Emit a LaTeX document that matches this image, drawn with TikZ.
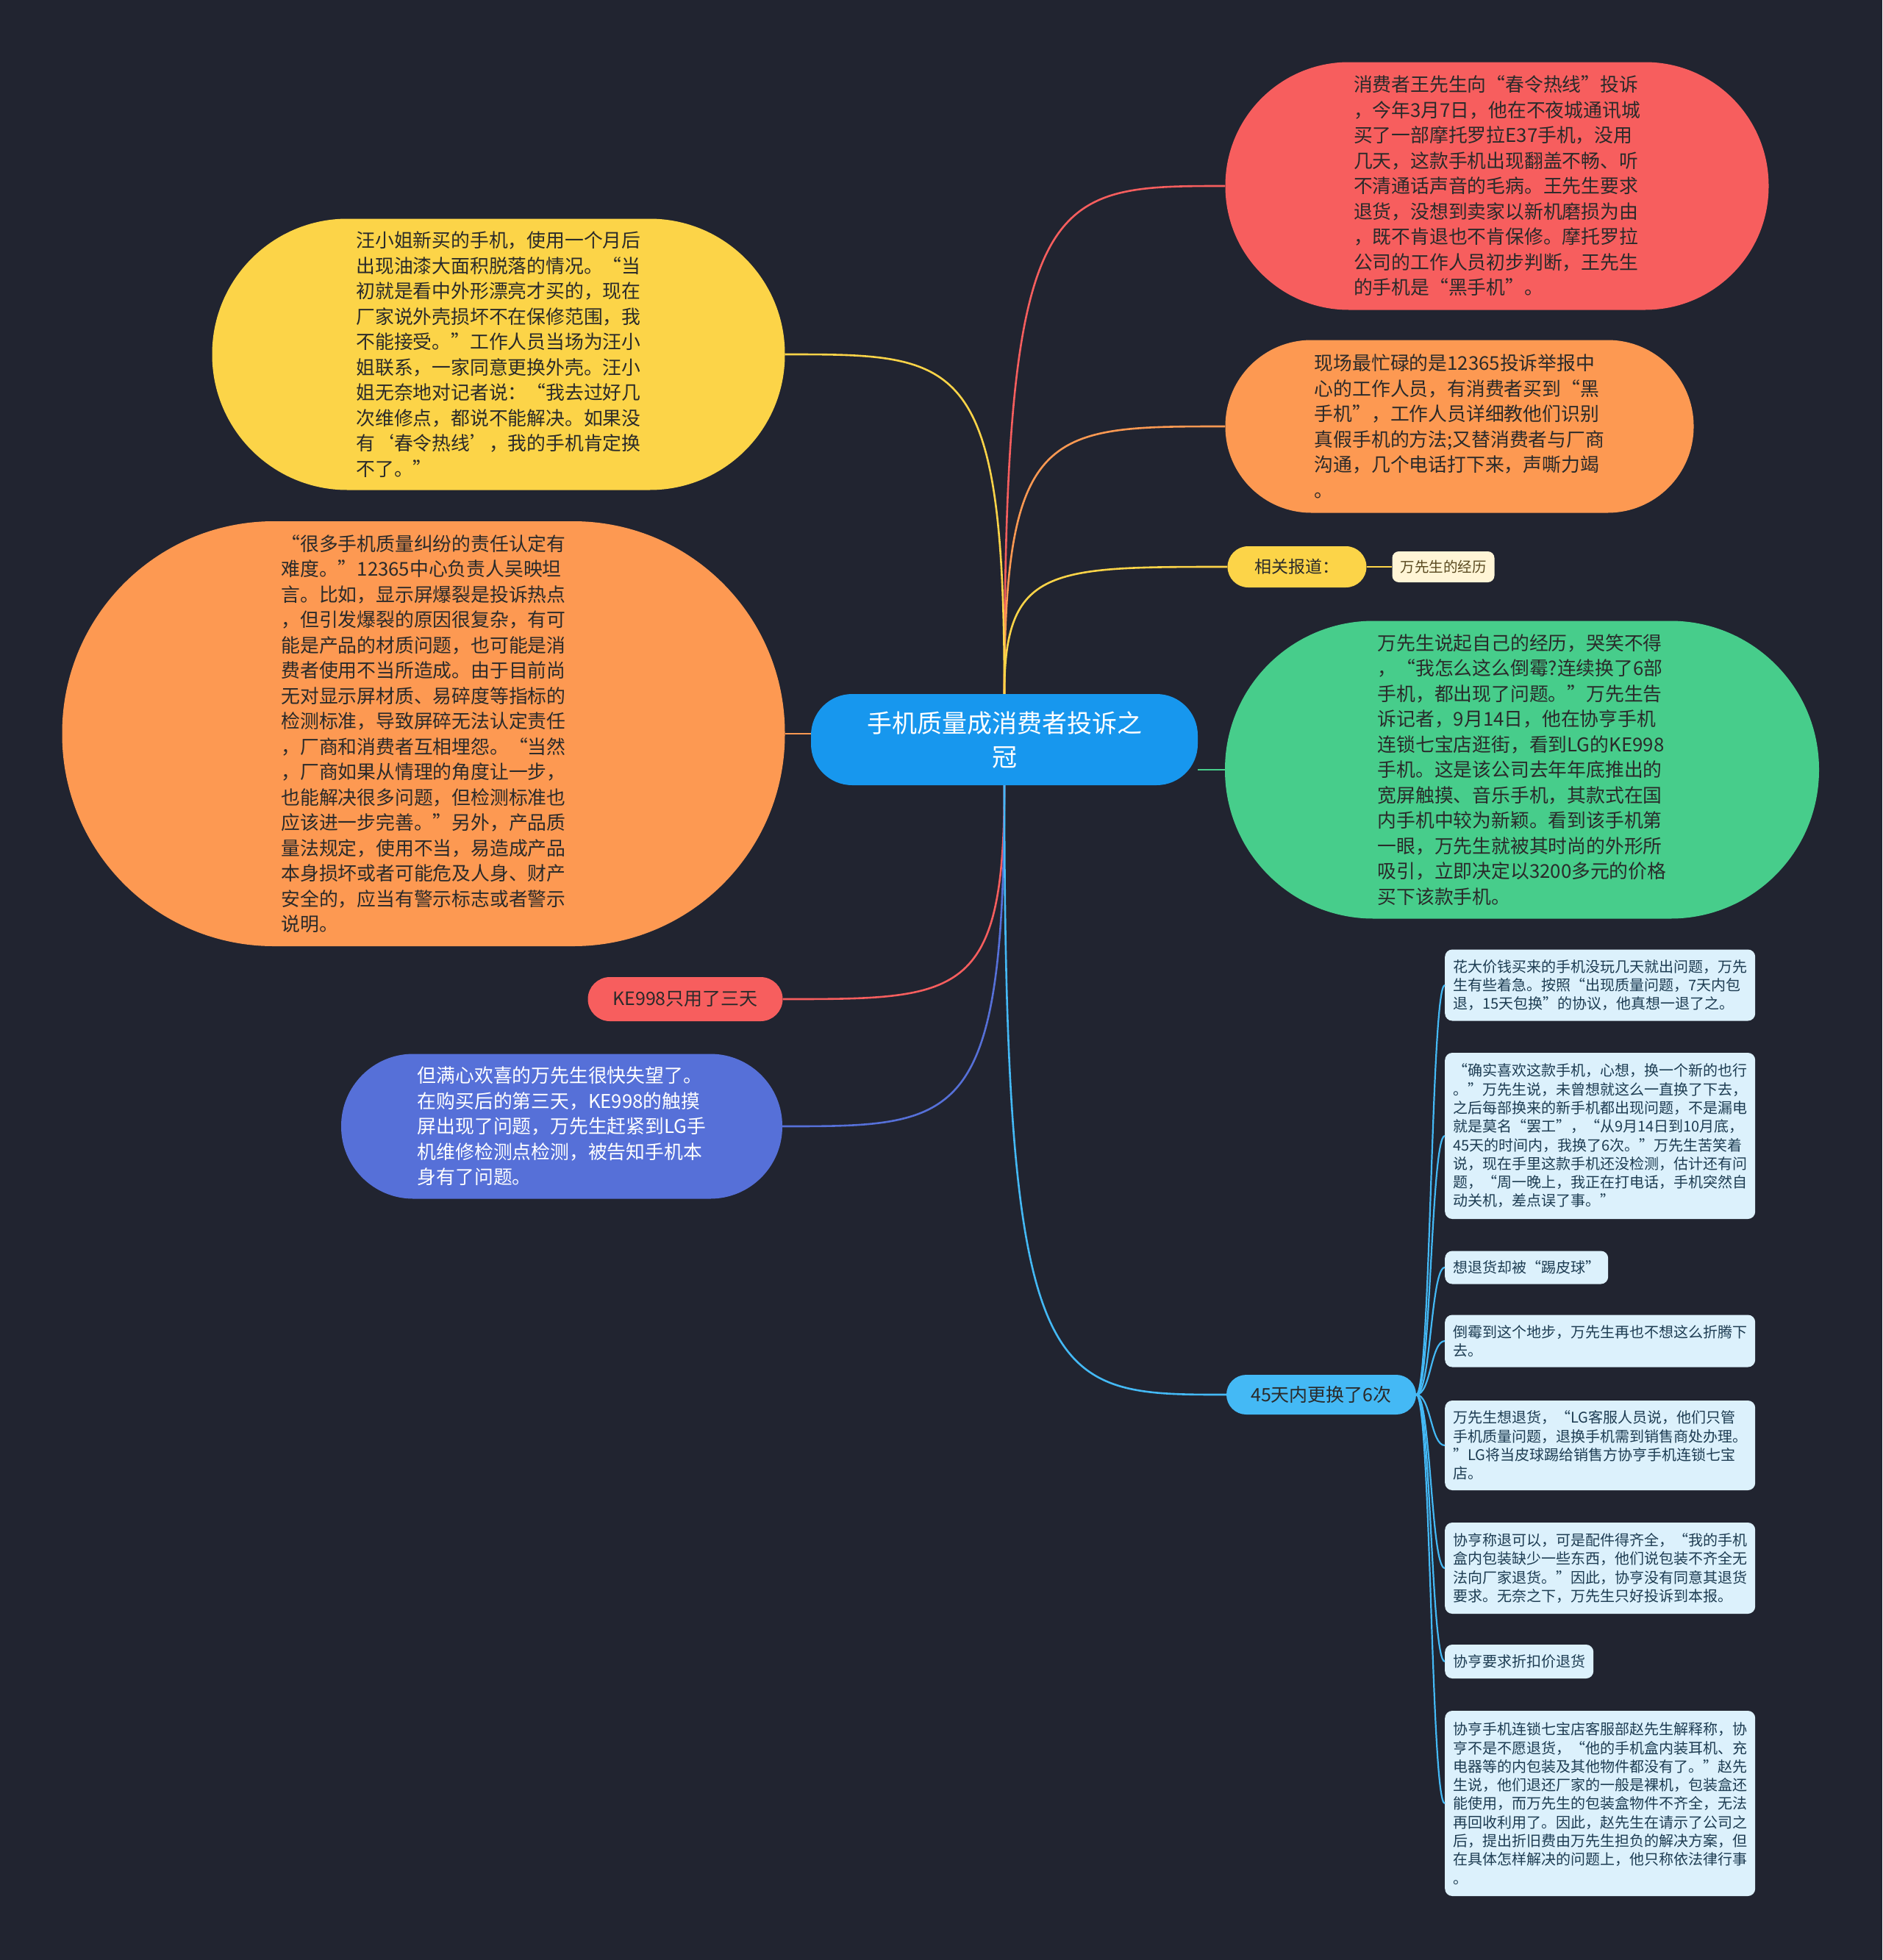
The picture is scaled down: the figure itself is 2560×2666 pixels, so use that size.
\documentclass[tikz,border=0pt]{standalone}
\usepackage{fontspec}
\setmainfont{Noto Sans CJK SC}
\definecolor{bg}{HTML}{212430}
\definecolor{ccenter}{HTML}{1797EE}
\definecolor{cred}{HTML}{F75E5E}
\definecolor{corange}{HTML}{FD9952}
\definecolor{cyel}{HTML}{FCD448}
\definecolor{cgreen}{HTML}{47CD8B}
\definecolor{clblue}{HTML}{44B9F5}
\definecolor{cpurple}{HTML}{5670D8}
\definecolor{cleaf}{HTML}{DCF1FC}
\definecolor{ccream}{HTML}{FFF5D6}
\definecolor{txtdark}{HTML}{2A2A2A}
\definecolor{txtleaf}{HTML}{1D3C52}
\definecolor{txtcream}{HTML}{5A4A20}
\begin{document}
\begin{tikzpicture}[x=1pt,y=-1pt,
  bignode/.style={draw=none, text=txtdark, align=left, inner sep=0pt,
    font=\fontsize{25.8pt}{34.5pt}\selectfont},
  smallnode/.style={draw=none, text=txtdark, align=center, inner sep=0pt,
    font=\fontsize{25pt}{30pt}\selectfont},
  leafnode/.style={draw=none, fill=cleaf, text=txtleaf, align=left, anchor=west,
    inner xsep=11pt, inner ysep=0pt, rounded corners=10pt,
    font=\fontsize{20pt}{25.3pt}\selectfont},
  edgeline/.style={line width=2.6pt},
  leafline/.style={line width=2.2pt, draw=clblue}
]
\fill[bg] (0,0) rectangle (2560,2666);
\useasboundingbox (0,0) rectangle (2560,2666);

% center
\node[draw=none, fill=ccenter, text=white, align=center, inner sep=0pt,
  minimum width=526pt, minimum height=124pt, rounded corners=56pt,
  font=\fontsize{34pt}{46pt}\selectfont] (c) at (1366,1006)
  {手机质量成消费者投诉之\\冠};

% right side
\node[bignode, fill=cred, minimum width=739pt, minimum height=337pt, rounded corners=168pt] (r1) at (2036,253) {%
消费者王先生向“春令热线”投诉\\
，今年3月7日，他在不夜城通讯城\\
买了一部摩托罗拉E37手机，没用\\
几天，这款手机出现翻盖不畅、听\\
不清通话声音的毛病。王先生要求\\
退货，没想到卖家以新机磨损为由\\
，既不肯退也不肯保修。摩托罗拉\\
公司的工作人员初步判断，王先生\\
的手机是“黑手机”。};

\node[bignode, fill=corange, minimum width=637pt, minimum height=235pt, rounded corners=117pt] (r2) at (1985,580) {%
现场最忙碌的是12365投诉举报中\\
心的工作人员，有消费者买到“黑\\
手机”，工作人员详细教他们识别\\
真假手机的方法;又替消费者与厂商\\
沟通，几个电话打下来，声嘶力竭\\
。};

\node[smallnode, fill=cyel, minimum width=189pt, minimum height=56pt, rounded corners=28pt,
  font=\fontsize{23pt}{28pt}\selectfont] (r3) at (1764,771) {相关报道：};
\node[draw=none, fill=ccream, text=txtcream, inner sep=0pt, minimum width=139pt,
  minimum height=42pt, rounded corners=9pt, font=\fontsize{19.5pt}{24pt}\selectfont]
  (r3a) at (1963,771) {万先生的经历};

\node[bignode, fill=cgreen, minimum width=808pt, minimum height=405pt, rounded corners=202pt] (r4) at (2070,1047) {%
万先生说起自己的经历，哭笑不得\\
，“我怎么这么倒霉?连续换了6部\\
手机，都出现了问题。”万先生告\\
诉记者，9月14日，他在协亨手机\\
连锁七宝店逛街，看到LG的KE998\\
手机。这是该公司去年年底推出的\\
宽屏触摸、音乐手机，其款式在国\\
内手机中较为新颖。看到该手机第\\
一眼，万先生就被其时尚的外形所\\
吸引，立即决定以3200多元的价格\\
买下该款手机。};

\node[smallnode, fill=clblue, minimum width=258pt, minimum height=54pt, rounded corners=27pt] (r5) at (1797,1897) {45天内更换了6次};

% leaves
\node[leafnode, text width=400pt, minimum height=97pt] (la) at (1965,1340) {%
花大价钱买来的手机没玩几天就出问题，万先\\
生有些着急。按照“出现质量问题，7天内包\\
退，15天包换”的协议，他真想一退了之。};
\node[leafnode, text width=400pt, minimum height=226pt] (lb) at (1965,1545) {%
“确实喜欢这款手机，心想，换一个新的也行\\
。”万先生说，未曾想就这么一直换了下去，\\
之后每部换来的新手机都出现问题，不是漏电\\
就是莫名“罢工”，“从9月14日到10月底，\\
45天的时间内，我换了6次。”万先生苦笑着\\
说，现在手里这款手机还没检测，估计还有问\\
题，“周一晚上，我正在打电话，手机突然自\\
动关机，差点误了事。”};
\node[leafnode, minimum height=45pt] (lc) at (1965,1724) {想退货却被“踢皮球”};
\node[leafnode, text width=400pt, minimum height=71pt] (ld) at (1965,1824) {%
倒霉到这个地步，万先生再也不想这么折腾下\\
去。};
\node[leafnode, text width=400pt, minimum height=122pt] (le) at (1965,1966) {%
万先生想退货，“LG客服人员说，他们只管\\
手机质量问题，退换手机需到销售商处办理。\\
”LG将当皮球踢给销售方协亨手机连锁七宝\\
店。};
\node[leafnode, text width=400pt, minimum height=124pt] (lf) at (1965,2133) {%
协亨称退可以，可是配件得齐全，“我的手机\\
盒内包装缺少一些东西，他们说包装不齐全无\\
法向厂家退货。”因此，协亨没有同意其退货\\
要求。无奈之下，万先生只好投诉到本报。};
\node[leafnode, minimum height=46pt] (lg) at (1965,2260) {协亨要求折扣价退货};
\node[leafnode, text width=400pt, minimum height=252pt] (lh) at (1965,2453) {%
协亨手机连锁七宝店客服部赵先生解释称，协\\
亨不是不愿退货，“他的手机盒内装耳机、充\\
电器等的内包装及其他物件都没有了。”赵先\\
生说，他们退还厂家的一般是裸机，包装盒还\\
能使用，而万先生的包装盒物件不齐全，无法\\
再回收利用了。因此，赵先生在请示了公司之\\
后，提出折旧费由万先生担负的解决方案，但\\
在具体怎样解决的问题上，他只称依法律行事\\
。};

% left side
\node[bignode, fill=cyel, minimum width=779pt, minimum height=369pt, rounded corners=184pt] (l1) at (678,482) {%
汪小姐新买的手机，使用一个月后\\
出现油漆大面积脱落的情况。“当\\
初就是看中外形漂亮才买的，现在\\
厂家说外壳损坏不在保修范围，我\\
不能接受。”工作人员当场为汪小\\
姐联系，一家同意更换外壳。汪小\\
姐无奈地对记者说：“我去过好几\\
次维修点，都说不能解决。如果没\\
有‘春令热线’，我的手机肯定换\\
不了。”};

\node[bignode, fill=corange, minimum width=983pt, minimum height=578pt, rounded corners=288pt] (l2) at (576,998) {%
“很多手机质量纠纷的责任认定有\\
难度。”12365中心负责人吴映坦\\
言。比如，显示屏爆裂是投诉热点\\
，但引发爆裂的原因很复杂，有可\\
能是产品的材质问题，也可能是消\\
费者使用不当所造成。由于目前尚\\
无对显示屏材质、易碎度等指标的\\
检测标准，导致屏碎无法认定责任\\
，厂商和消费者互相埋怨。“当然\\
，厂商如果从情理的角度让一步，\\
也能解决很多问题，但检测标准也\\
应该进一步完善。”另外，产品质\\
量法规定，使用不当，易造成产品\\
本身损坏或者可能危及人身、财产\\
安全的，应当有警示标志或者警示\\
说明。};

\node[smallnode, fill=cred, minimum width=265pt, minimum height=60pt, rounded corners=30pt] (l3) at (932,1359) {KE998只用了三天};

\node[bignode, fill=cpurple, text=white, minimum width=600pt, minimum height=197pt, rounded corners=98pt] (l4) at (764,1532) {%
但满心欢喜的万先生很快失望了。\\
在购买后的第三天，KE998的触摸\\
屏出现了问题，万先生赶紧到LG手\\
机维修检测点检测，被告知手机本\\
身有了问题。};

% main connectors
\draw[edgeline, cred] (c.north) .. controls (1366,253) and (1426,253) .. (r1.west);
\draw[edgeline, corange] (c.north) .. controls (1366,580) and (1426,580) .. (r2.west);
\draw[edgeline, cyel] (c.north) .. controls (1366,771) and (1427,771) .. (r3.west);
\draw[edgeline, cyel] (r3.east) -- (r3a.west);
\draw[edgeline, cyel] (c.north) .. controls (1366,482) and (1306,482) .. (l1.east);
\draw[edgeline, corange] (l2.east) -- (l2.east -| c.west);
\draw[edgeline, cgreen] (c.east |- r4.west) -- (r4.west);
\draw[edgeline, cred] (c.south) .. controls (1366,1359) and (1306,1359) .. (l3.east);
\draw[edgeline, cpurple] (c.south) .. controls (1366,1532) and (1306,1532) .. (l4.east);
\draw[edgeline, clblue] (c.south) .. controls (1366,1897) and (1426,1897) .. (r5.west);

% leaf connectors
\foreach \n/\yy in {la/1340, lb/1545, lc/1724, ld/1824, le/1966, lf/2133, lg/2260, lh/2453}{
  \draw[leafline] (r5.east) .. controls (1946,1897) and (1946,\yy) .. (\n.west);
}
\end{tikzpicture}
\end{document}
